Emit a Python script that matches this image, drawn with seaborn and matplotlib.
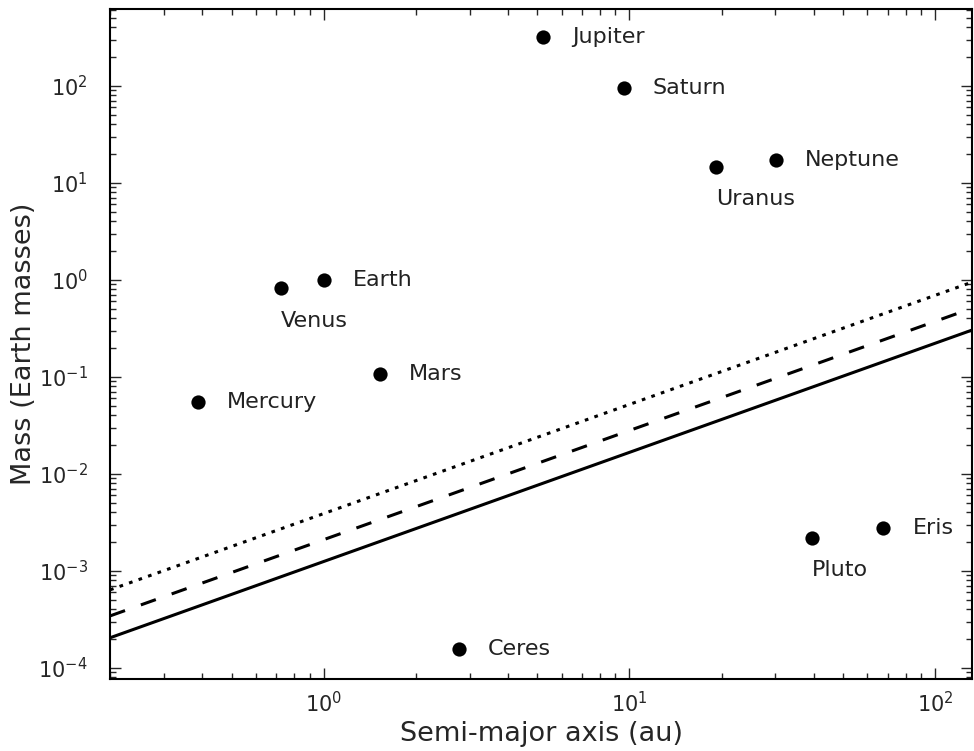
import numpy as np
import pandas as pd
import matplotlib
matplotlib.use("Agg")
import matplotlib.pyplot as plt
import seaborn as sns

# Data
bodies = ["Mercury", "Venus", "Earth", "Mars", "Ceres", "Jupiter", "Saturn",
          "Uranus", "Neptune", "Pluto", "Eris"]
semi_major_au = [0.387, 0.723, 1.0, 1.524, 2.77, 5.20, 9.58, 19.2, 30.1, 39.5, 67.7]
mass_earth = [0.055, 0.815, 1.0, 0.107, 0.000157, 318.0, 95.2, 14.5, 17.1, 0.0022, 0.0028]
label_below = ["Venus", "Uranus", "Pluto"]

# threshold lines: M = k * a^(9/8)
line_coeffs = [1.25e-3, 2.1e-3, 3.9e-3]
line_slope = 9 / 8
line_dashes = [None, (5.2, 5.5), (1.2, 2.1)]
line_x = [0.2, 132.0]

sns.set_style("ticks")
plt.rcParams["font.family"] = ["DejaVu Sans"]
plt.rcParams["mathtext.fontset"] = "dejavusans"

fig = plt.figure(figsize=(9.74, 7.51), dpi=100)
ax = fig.add_axes([0.113, 0.096, 0.885, 0.892])

xs = np.array(line_x)
for k, d in zip(line_coeffs, line_dashes):
    df_line = pd.DataFrame({"a": xs, "m": k * xs ** line_slope})
    sns.lineplot(data=df_line, x="a", y="m", ax=ax, color="black",
                 linewidth=2.2)
    if d is not None:
        ax.lines[-1].set_dashes(d)

df = pd.DataFrame({"a": semi_major_au, "m": mass_earth, "name": bodies})
sns.scatterplot(data=df, x="a", y="m", ax=ax, color="black", s=105,
                edgecolor="black", linewidth=0, zorder=5)

ax.set_xscale("log")
ax.set_yscale("log")
ax.set_xlim(0.2, 132)
ax.set_ylim(7.7e-5, 620)

for name, a, m in zip(bodies, semi_major_au, mass_earth):
    if name in label_below:
        ax.annotate(name, (a, m), xytext=(0, -16), textcoords="offset points",
                    ha="left", va="top", fontsize=16, color="#222222")
    else:
        ax.annotate(name, (a, m), xytext=(21, 0), textcoords="offset points",
                    ha="left", va="center", fontsize=16, color="#222222")

ax.set_xlabel("Semi-major axis (au)", fontsize=19.5, labelpad=3)
ax.set_ylabel("Mass (Earth masses)", fontsize=19.5, labelpad=1)
ax.tick_params(which="both", direction="in", top=True, right=True, labelsize=15)
ax.tick_params(axis="y", which="major", pad=16)
ax.tick_params(axis="x", which="major", pad=9)
ax.tick_params(which="major", length=8, width=1)
ax.tick_params(which="minor", length=4, width=1)
for s in ax.spines.values():
    s.set_linewidth(1.5)
    s.set_color("black")

fig.savefig("out.png", dpi=100)
